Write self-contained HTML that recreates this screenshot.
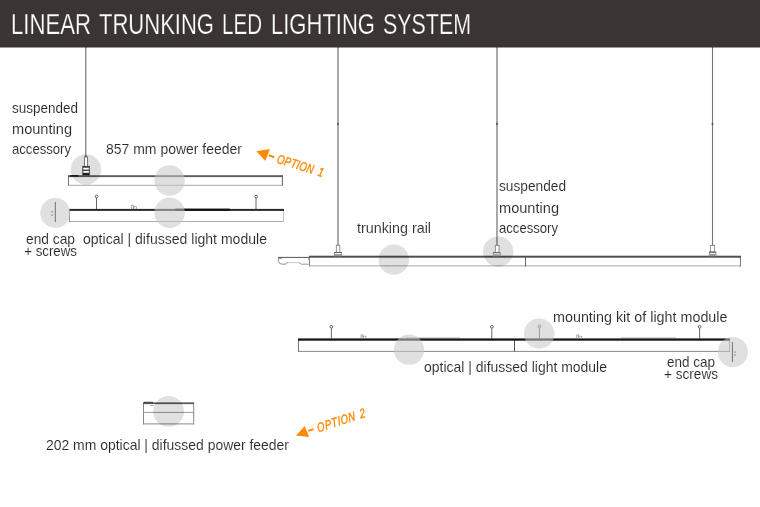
<!DOCTYPE html>
<html><head><meta charset="utf-8">
<style>
html,body{margin:0;padding:0;background:#fff;width:760px;height:507px;overflow:hidden}
svg{display:block}
text{font-family:"Liberation Sans",sans-serif}
.tx{will-change:transform}
.o{font-family:"Liberation Sans",sans-serif;font-weight:normal;font-style:italic;fill:#fd8a04;stroke:#fd8a04;stroke-width:0.45px}
</style></head><body>
<svg width="760" height="507" viewBox="0 0 760 507">
<!-- header -->
<rect x="0" y="0" width="760" height="47.5" fill="#3a3434"/>


<!-- behind circles -->
<g fill="#c7c7c7" fill-opacity="0.55">
<circle cx="86" cy="169.5" r="15.2"/>
<circle cx="393.8" cy="259.6" r="15.2"/>
<circle cx="498.2" cy="251.6" r="15.2"/>
<circle cx="168.6" cy="411.4" r="15.4"/>
</g>

<!-- wires -->
<g style="mix-blend-mode:multiply">
<line x1="85.8" y1="47" x2="85.8" y2="157" stroke="#777" stroke-width="1.2"/>
<line x1="338" y1="47" x2="338" y2="245.5" stroke="#7c7c7c" stroke-width="1.3"/>
<line x1="497" y1="47" x2="497" y2="245.5" stroke="#7c7c7c" stroke-width="1.3"/>
<line x1="712.5" y1="47" x2="712.5" y2="245.5" stroke="#777" stroke-width="1.1"/>
<g fill="#555">
<rect x="337.2" y="122.8" width="1.6" height="2.2"/>
<rect x="496.2" y="122.8" width="1.6" height="2.2"/>
<rect x="711.7" y="122.8" width="1.6" height="2.2"/>
</g>

</g>
<!-- row1: 857 power feeder -->
<g style="mix-blend-mode:multiply">
<rect x="68" y="184.8" width="215" height="1" fill="#aaa"/>
<rect x="68" y="175.2" width="1" height="10.6" fill="#777"/>
<rect x="281.9" y="175.2" width="1.1" height="10.6" fill="#777"/>
<rect x="68" y="175.2" width="215" height="1.9" fill="#5d5d5d"/>
<rect x="70" y="175.3" width="8.6" height="1.3" rx="0.6" fill="#000"/>
</g>
<!-- row2: light module -->
<rect x="69" y="221" width="215" height="1" fill="#aaa"/>
<rect x="69" y="209" width="1" height="13" fill="#888"/>
<rect x="283" y="209" width="0.9" height="13" fill="#bbb"/>
<rect x="69" y="208.9" width="215" height="2" fill="#2a2a2a"/>
<rect x="175.5" y="208.9" width="54.3" height="2" fill="#141414"/>
<rect x="175.5" y="208.2" width="54.3" height="0.7" fill="#777"/>
<g stroke="#4a4a4a" stroke-width="0.85" fill="#fff">
<line x1="96.5" y1="198" x2="96.5" y2="209"/>
<circle cx="96.6" cy="196.5" r="1.35"/>
<line x1="256" y1="198" x2="256" y2="209"/>
<circle cx="256.1" cy="196.5" r="1.35"/>
</g>
<path d="M131.6 209 v-3.8 h1.8 v3.8 M133.6 209 v-2.4 h2.8 v2.4" fill="none" stroke="#888" stroke-width="0.7"/>
<!-- end cap left -->
<rect x="54.8" y="202" width="1.1" height="20" fill="#222"/>
<rect x="51.5" y="211" width="1.3" height="1.4" fill="#333"/>
<rect x="51.5" y="214.5" width="1.3" height="1.4" fill="#333"/>

<!-- trunking rail -->
<g style="mix-blend-mode:multiply">
<g fill="none">
<path d="M278 257.4 H309.5" stroke="#555" stroke-width="1"/>
<path d="M278.4 257.4 V261 Q278.8 264 282 264.2 H285.6 Q286.4 262.6 288.2 262.6" stroke="#777" stroke-width="0.8"/>
<path d="M288.2 262.6 H298.6" stroke="#bbb" stroke-width="0.8"/>
<path d="M298.6 262.6 Q300.2 262.6 301 264.2 H309.5" stroke="#888" stroke-width="0.8"/>
<rect x="278.6" y="257.6" width="3.4" height="1" fill="#666"/>
<rect x="308.3" y="258.3" width="0.8" height="1.8" fill="#888"/>
</g>
<rect x="309" y="265.2" width="431.9" height="1.3" fill="#bbb"/>
<rect x="309" y="256" width="1" height="10.5" fill="#888"/>
<rect x="739.9" y="256" width="1" height="10.5" fill="#777"/>
<rect x="525" y="256" width="1" height="10.5" fill="#666"/>
<rect x="309" y="255.7" width="431.9" height="2" fill="#505050"/>
</g>
<!-- row4 lower light module -->
<rect x="298" y="350.9" width="432" height="1" fill="#8a8a8a"/>
<rect x="298" y="339" width="1" height="12.9" fill="#777"/>
<rect x="729" y="339" width="0.9" height="12.9" fill="#999"/>
<rect x="514" y="340" width="1" height="11.5" fill="#555"/>
<rect x="298" y="338.4" width="432" height="2.3" fill="#161616"/>
<rect x="405.5" y="337.7" width="54.3" height="0.7" fill="#666"/>
<rect x="621" y="337.7" width="55" height="0.7" fill="#666"/>
<g stroke="#4a4a4a" stroke-width="0.85" fill="#fff">
<line x1="331.4" y1="328.3" x2="331.4" y2="339"/><circle cx="331.4" cy="326.8" r="1.35"/>
<line x1="491.8" y1="328.3" x2="491.8" y2="339"/><circle cx="491.8" cy="326.8" r="1.35"/>
<line x1="539.4" y1="328" x2="539.4" y2="339"/><circle cx="539.4" cy="326.4" r="1.35"/>
<line x1="699.6" y1="328.3" x2="699.6" y2="339"/><circle cx="699.6" cy="326.8" r="1.35"/>
</g>
<path d="M361.1 338.6 v-3.8 h1.8 v3.8 M363.1 338.6 v-2.4 h2.8 v2.4" fill="none" stroke="#888" stroke-width="0.7"/>
<path d="M576.7 338.6 v-3.8 h1.8 v3.8 M578.7 338.6 v-2.4 h2.8 v2.4" fill="none" stroke="#888" stroke-width="0.7"/>
<rect x="731.9" y="342" width="1.1" height="20" fill="#222"/>
<rect x="734.3" y="351.4" width="1.3" height="1.4" fill="#333"/>
<rect x="734.3" y="354.3" width="1.3" height="1.4" fill="#333"/>

<!-- 202 feeder -->
<g style="mix-blend-mode:multiply">
<rect x="143" y="423.4" width="51" height="1" fill="#888"/>
<rect x="143" y="402.5" width="1" height="21.9" fill="#888"/>
<rect x="193.2" y="402.5" width="1" height="21.9" fill="#888"/>
<rect x="143" y="411.9" width="51" height="1" fill="#999"/>
<rect x="143" y="402.4" width="51" height="1.7" fill="#555"/>
<rect x="144" y="401.8" width="9" height="1" fill="#333"/>
<rect x="150" y="405.1" width="4" height="0.9" fill="#aaa"/>
</g>

<g class="tx">
<text id="h1" x="11.00" y="33.6" font-size="29" fill="#fff" stroke="#3a3434" stroke-width="0.25" textLength="80.00" lengthAdjust="spacingAndGlyphs">LINEAR</text>
<text id="h2" x="99.00" y="33.6" font-size="29" fill="#fff" stroke="#3a3434" stroke-width="0.25" textLength="115.00" lengthAdjust="spacingAndGlyphs">TRUNKING</text>
<text id="h3" x="222.00" y="33.6" font-size="29" fill="#fff" stroke="#3a3434" stroke-width="0.25" textLength="40.00" lengthAdjust="spacingAndGlyphs">LED</text>
<text id="h4" x="271.00" y="33.6" font-size="29" fill="#fff" stroke="#3a3434" stroke-width="0.25" textLength="104.00" lengthAdjust="spacingAndGlyphs">LIGHTING</text>
<text id="h5" x="383.00" y="33.6" font-size="29" fill="#fff" stroke="#3a3434" stroke-width="0.25" textLength="88.00" lengthAdjust="spacingAndGlyphs">SYSTEM</text>
<text id="a1" x="12.00" y="112.8" font-size="15.4" fill="#2a2a2a" stroke="#fff" stroke-width="0.1" textLength="66.00" lengthAdjust="spacingAndGlyphs">suspended</text>
<text id="a2" x="12.00" y="133.5" font-size="15.4" fill="#2a2a2a" stroke="#fff" stroke-width="0.1" textLength="60.00" lengthAdjust="spacingAndGlyphs">mounting</text>
<text id="a3" x="12.00" y="154.2" font-size="15.4" fill="#2a2a2a" stroke="#fff" stroke-width="0.1" textLength="59.00" lengthAdjust="spacingAndGlyphs">accessory</text>
<text id="a4" x="106.00" y="154.2" font-size="15.4" fill="#2a2a2a" stroke="#fff" stroke-width="0.1" textLength="136.00" lengthAdjust="spacingAndGlyphs">857 mm power feeder</text>
<text id="b1" x="26.00" y="243.5" font-size="15.4" fill="#2a2a2a" stroke="#fff" stroke-width="0.1" textLength="49.00" lengthAdjust="spacingAndGlyphs">end cap</text>
<text id="b2" x="24.20" y="256.3" font-size="15.4" fill="#2a2a2a" stroke="#fff" stroke-width="0.1" textLength="52.80" lengthAdjust="spacingAndGlyphs">+ screws</text>
<text id="b3" x="83.00" y="244" font-size="15.4" fill="#2a2a2a" stroke="#fff" stroke-width="0.1" textLength="184.00" lengthAdjust="spacingAndGlyphs">optical | difussed light module</text>
<text id="c1" x="357.00" y="232.5" font-size="15.4" fill="#2a2a2a" stroke="#fff" stroke-width="0.1" textLength="74.00" lengthAdjust="spacingAndGlyphs">trunking rail</text>
<text id="c2" x="499.00" y="191.4" font-size="15.4" fill="#2a2a2a" stroke="#fff" stroke-width="0.1" textLength="67.00" lengthAdjust="spacingAndGlyphs">suspended</text>
<text id="c3" x="499.00" y="212.5" font-size="15.4" fill="#2a2a2a" stroke="#fff" stroke-width="0.1" textLength="60.00" lengthAdjust="spacingAndGlyphs">mounting</text>
<text id="c4" x="499.00" y="232.5" font-size="15.4" fill="#2a2a2a" stroke="#fff" stroke-width="0.1" textLength="59.00" lengthAdjust="spacingAndGlyphs">accessory</text>
<text id="d1" x="553.00" y="322.3" font-size="15.4" fill="#2a2a2a" stroke="#fff" stroke-width="0.1" textLength="174.50" lengthAdjust="spacingAndGlyphs">mounting kit of light module</text>
<text id="d2" x="424.00" y="372.3" font-size="15.4" fill="#2a2a2a" stroke="#fff" stroke-width="0.1" textLength="183.00" lengthAdjust="spacingAndGlyphs">optical | difussed light module</text>
<text id="d3" x="667.00" y="367.1" font-size="15.4" fill="#2a2a2a" stroke="#fff" stroke-width="0.1" textLength="48.00" lengthAdjust="spacingAndGlyphs">end cap</text>
<text id="d4" x="664.00" y="378.9" font-size="15.4" fill="#2a2a2a" stroke="#fff" stroke-width="0.1" textLength="54.00" lengthAdjust="spacingAndGlyphs">+ screws</text>
<text id="e1" x="46.00" y="449.8" font-size="15.4" fill="#2a2a2a" stroke="#fff" stroke-width="0.1" textLength="243.00" lengthAdjust="spacingAndGlyphs">202 mm optical | difussed power feeder</text>
</g>
<!-- overlay circles (on top) -->
<g fill="#c7c7c7" fill-opacity="0.55">
<circle cx="169.6" cy="180.5" r="15.2"/>
<circle cx="169.6" cy="212.8" r="15.2"/>
<circle cx="55.3" cy="213" r="15"/>
<circle cx="409" cy="349.7" r="15.1"/>
<circle cx="539.2" cy="333.6" r="15.2"/>
<circle cx="732.9" cy="352" r="15.1"/>
</g>

<!-- connector left -->
<line x1="85.8" y1="155.5" x2="85.8" y2="157.5" stroke="#555" stroke-width="2"/>
<rect x="84.4" y="157" width="3.2" height="9.4" fill="#fff" stroke="#666" stroke-width="0.9"/>
<rect x="82.8" y="166.4" width="6.5" height="8.7" fill="#fff" stroke="#333" stroke-width="0.9"/>
<rect x="82.8" y="166.4" width="6.5" height="1.3" fill="#333"/>
<rect x="82.8" y="169.6" width="6.5" height="1.4" fill="#444"/>
<rect x="82.8" y="172.8" width="6.5" height="2.3" fill="#222"/>


<!-- rail connectors -->
<g stroke="#777" stroke-width="0.8" fill="#fff">
<rect x="336.3" y="245.2" width="3.5" height="7.2"/>
<rect x="334.3" y="252.4" width="7.3" height="3.6"/>
<rect x="495.3" y="245.3" width="3.7" height="7.3"/>
<rect x="493.3" y="252.6" width="6.9" height="3.4"/>
<rect x="710.4" y="245.3" width="4.2" height="6.7"/>
<rect x="709.3" y="252" width="6.6" height="4"/>
</g>
<g fill="#555">
<rect x="334.3" y="252.2" width="7.3" height="0.8"/>
<rect x="493.3" y="252.4" width="6.9" height="0.8"/>
<rect x="709.3" y="251.8" width="6.6" height="0.8"/>
</g>
<g fill="#999">
<rect x="334.3" y="254" width="7.3" height="2"/>
<rect x="493.3" y="254.2" width="6.9" height="1.8"/>
<rect x="709.3" y="253.8" width="6.6" height="2.2"/>
</g>


<!-- option arrows -->
<g fill="#fd8a04">
<polygon points="256.4,151.3 269.9,149.1 265.4,160.9"/>
<line x1="268.8" y1="155.2" x2="274.2" y2="157.2" stroke="#fd8a04" stroke-width="2"/>
<text class="o" font-size="12.9" letter-spacing="0.35" transform="translate(276.3,162.7) rotate(17.5) skewX(2) scale(0.74,1)">OPTION<tspan dx="6.4">1</tspan></text>
<polygon points="296,435.5 304.8,426 309.1,436.9"/>
<line x1="308.3" y1="430.9" x2="313.5" y2="429.2" stroke="#fd8a04" stroke-width="2"/>
<text class="o" font-size="12.9" letter-spacing="0.8" transform="translate(318.3,432.4) rotate(-18) skewX(-5) scale(0.74,1)">OPTION<tspan dx="6.3">2</tspan></text>
</g>

</svg>
</body></html>
